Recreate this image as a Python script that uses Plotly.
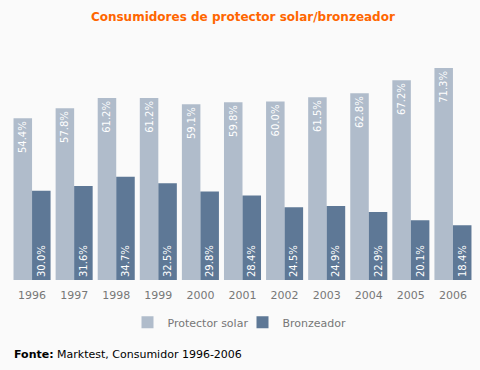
import plotly.graph_objects as go

years = ["1996", "1997", "1998", "1999", "2000", "2001", "2002", "2003", "2004", "2005", "2006"]
protector = [54.4, 57.8, 61.2, 61.2, 59.1, 59.8, 60.0, 61.5, 62.8, 67.2, 71.3]
bronzeador = [30.0, 31.6, 34.7, 32.5, 29.8, 28.4, 24.5, 24.9, 22.9, 20.1, 18.4]

light = "#b0bccb"
dark = "#5e7896"
font = "DejaVu Sans"

fig = go.Figure()
fig.add_trace(go.Bar(
    x=years, y=protector, name="Protector solar", marker=dict(color=light, line=dict(width=0)),
    text=[f"{v:.1f}%" for v in protector], textposition="inside", insidetextanchor="end",
    textangle=-90, textfont=dict(color="white", size=10, family=font), constraintext="none",
))
fig.add_trace(go.Bar(
    x=years, y=bronzeador, name="Bronzeador", marker=dict(color=dark, line=dict(width=0)),
    text=[f"{v:.1f}%" for v in bronzeador], textposition="inside", insidetextanchor="start",
    textangle=-90, textfont=dict(color="white", size=10, family=font), constraintext="none",
))

fig.update_layout(
    width=480, height=370,
    margin=dict(l=11, r=6, t=57, b=90),
    paper_bgcolor="#fafafa", plot_bgcolor="#fafafa",
    barmode="group", bargap=0.12, bargroupgap=0,
    font=dict(family=font, color="#777777", size=11),
    title=dict(text="<b>Consumidores de protector solar/bronzeador</b>", x=0.506, xanchor="center",
               y=1 - 17 / 370, yanchor="middle", font=dict(color="#ff6600", size=12, family=font)),
    xaxis=dict(showgrid=False, zeroline=False, showline=False, ticks="", ticklabelstandoff=7,
               tickfont=dict(color="#777777", size=11, family=font)),
    yaxis=dict(visible=False, range=[0, 75]),
    legend=dict(orientation="h", x=0.5, xanchor="center", y=-0.19, yanchor="middle", itemwidth=30,
                entrywidth=70, entrywidthmode="pixels",
                font=dict(color="#777777", size=11, family=font), bgcolor="rgba(0,0,0,0)"),
    showlegend=True,
)
fig.add_annotation(text="<b>Fonte:</b> Marktest, Consumidor 1996-2006", xref="paper", yref="paper",
                   x=1 / 463, y=-74 / 223, xanchor="left", yanchor="middle", showarrow=False,
                   font=dict(color="#000000", size=11, family=font))

fig.write_html("out.html", config={"displayModeBar": False},
               post_script="document.body.style.margin='0';document.body.style.background='#fafafa';")
